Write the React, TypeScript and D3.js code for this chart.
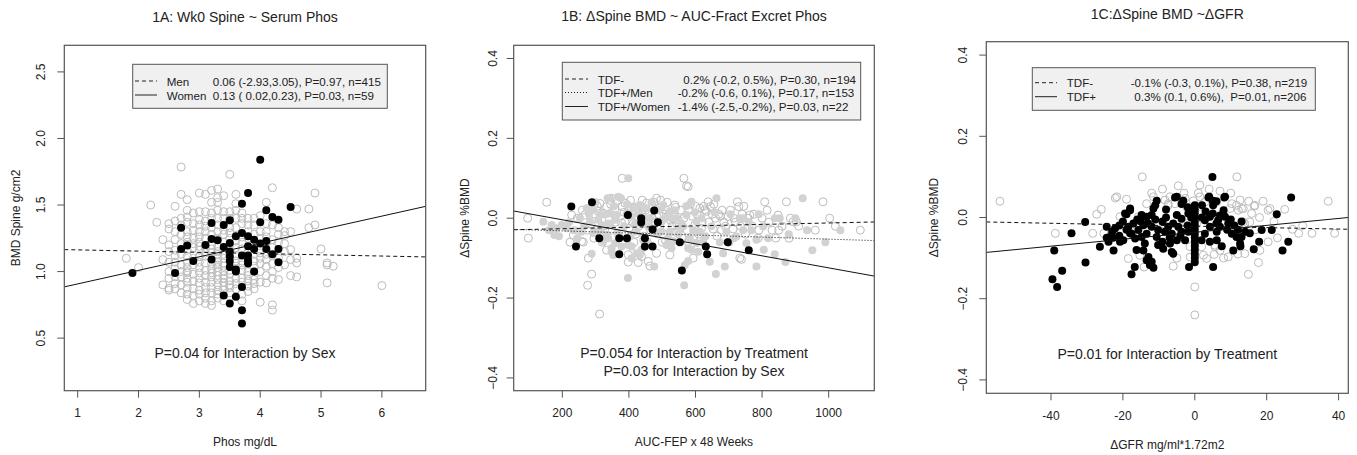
import React from 'react';
import * as d3 from 'd3';

type Pt = [number, number];

// ---------------- Panel 1A data ----------------
const titleA = '1A: Wk0 Spine ~ Serum Phos';
const xLabelA = 'Phos mg/dL';
const yLabelA = 'BMD Spine g/cm2';
const xTicksA = [1, 2, 3, 4, 5, 6];
const yTicksA = [0.5, 1.0, 1.5, 2.0, 2.5];
const menA: Pt[] = [
  [1.8, 1.10], [2.0, 1.03], [2.2, 1.50], [2.3, 1.37], [2.4, 1.24], [2.4, 1.09], [2.4, 0.90], [2.5, 1.36], [2.5, 1.32], [2.5, 1.20], [2.5, 1.07], [2.5, 0.875], [2.5, 0.86],
  [2.6, 1.49], [2.6, 1.30], [2.6, 1.24], [2.6, 1.16], [2.6, 0.91], [2.6, 1.12], [2.6, 1.02],
  [2.7, 1.785], [2.7, 1.58], [2.7, 1.28], [2.7, 1.21], [2.7, 1.05], [2.7, 0.96],
  [2.8, 1.54], [2.8, 1.46], [2.8, 1.41], [2.8, 1.37], [2.8, 1.26], [2.8, 1.16], [2.8, 1.115], [2.8, 1.07], [2.8, 1.03], [2.8, 0.99], [2.8, 0.92], [2.8, 0.875], [2.8, 0.83], [2.8, 0.95], [2.8, 1.0],
  [2.9, 1.31], [2.9, 1.25], [2.9, 1.18], [2.9, 0.76], [2.9, 1.10], [2.9, 0.98],
  [3.0, 1.59], [3.0, 1.39], [3.0, 1.35], [3.0, 1.26], [3.0, 1.22], [3.0, 1.115], [3.0, 1.07], [3.0, 0.95], [3.0, 0.915], [3.0, 0.78], [3.0, 1.03], [3.0, 1.16],
  [3.1, 1.58], [3.1, 1.45], [3.1, 1.30], [3.1, 1.115], [3.1, 1.065], [3.1, 1.01], [3.1, 0.80], [3.1, 1.18], [3.1, 0.92],
  [3.2, 1.61], [3.2, 1.52], [3.2, 1.44], [3.2, 0.96], [3.2, 0.78], [3.2, 0.745], [3.2, 1.28], [3.2, 1.14], [3.2, 1.02], [3.2, 0.88],
  [3.3, 1.62], [3.3, 1.555], [3.3, 1.52], [3.3, 1.46], [3.3, 1.40], [3.3, 1.19], [3.3, 1.10], [3.3, 1.05], [3.3, 1.00], [3.3, 0.94], [3.3, 0.86], [3.3, 0.80], [3.3, 1.30], [3.3, 0.97],
  [3.4, 1.57], [3.4, 1.065], [3.4, 0.97], [3.4, 0.86], [3.4, 1.28], [3.4, 1.13], [3.4, 1.0], [3.4, 0.92],
  [3.5, 1.73], [3.5, 1.33], [3.5, 1.25], [3.5, 0.98], [3.5, 0.93], [3.5, 0.88],
  [3.6, 1.58], [3.6, 1.51], [3.6, 1.46], [3.6, 1.08], [3.6, 0.87], [3.6, 1.33], [3.6, 1.18], [3.6, 0.95],
  [3.7, 0.83], [3.7, 1.36], [3.7, 1.22], [3.7, 1.05], [3.7, 0.95],
  [3.8, 1.40], [3.8, 1.30], [3.8, 1.0], [3.8, 0.93],
  [3.9, 1.40], [3.9, 0.94], [3.9, 0.87], [3.9, 1.28], [3.9, 1.08],
  [4.0, 1.06], [4.0, 0.77], [4.0, 1.30], [4.0, 1.14],
  [4.1, 1.52], [4.1, 1.30], [4.1, 1.09], [4.1, 0.97], [4.1, 0.915], [4.1, 1.22],
  [4.2, 1.63], [4.2, 1.06], [4.2, 0.75], [4.2, 0.71], [4.2, 1.24], [4.2, 1.0],
  [4.3, 0.94], [4.3, 1.22], [4.3, 1.28],
  [4.4, 1.30], [4.4, 1.21], [4.4, 1.27],
  [4.5, 1.165], [4.5, 1.09], [4.5, 0.97], [4.5, 1.30],
  [4.6, 1.47], [4.6, 1.10], [4.6, 1.065], [4.6, 0.96],
  [4.8, 1.47], [4.8, 1.33], [4.9, 1.59], [4.9, 1.35],
  [5.0, 1.17], [5.1, 1.05], [5.1, 1.065], [5.1, 0.915], [5.2, 1.04], [6.0, 0.895],
  [2.5, 1.15], [2.5, 1.0], [2.5, 0.95], [2.6, 1.38], [2.6, 1.07], [2.6, 0.96], [2.6, 0.87],
  [2.7, 1.40], [2.7, 1.35], [2.7, 1.13], [2.7, 1.0], [2.7, 0.90], [2.7, 0.84], [2.8, 1.30], [2.8, 1.22], [2.8, 0.79],
  [2.9, 1.44], [2.9, 1.36], [2.9, 1.21], [2.9, 1.05], [2.9, 0.93], [2.9, 0.87], [2.9, 0.82],
  [3.0, 1.45], [3.0, 1.30], [3.0, 1.19], [3.0, 1.11], [3.0, 0.99], [3.0, 0.86], [3.0, 0.83],
  [3.1, 1.38], [3.1, 1.34], [3.1, 1.25], [3.1, 1.14], [3.1, 0.97], [3.1, 0.88], [3.1, 0.84], [3.1, 0.76],
  [3.2, 1.40], [3.2, 1.33], [3.2, 1.20], [3.2, 1.17], [3.2, 1.06], [3.2, 0.99], [3.2, 0.92], [3.2, 0.84],
  [3.3, 1.35], [3.3, 1.25], [3.3, 1.15], [3.3, 1.13], [3.3, 1.07], [3.3, 1.03], [3.3, 0.90], [3.3, 0.83],
  [3.4, 1.45], [3.4, 1.40], [3.4, 1.31], [3.4, 1.22], [3.4, 1.10], [3.4, 1.04], [3.4, 0.95], [3.4, 0.89], [3.4, 0.78],
  [3.5, 1.45], [3.5, 1.40], [3.5, 1.29], [3.5, 1.20], [3.5, 1.01], [3.5, 0.90], [3.5, 0.84],
  [3.6, 1.40], [3.6, 1.23], [3.6, 1.12], [3.6, 1.04], [3.6, 0.91],
  [3.7, 1.44], [3.7, 1.40], [3.7, 1.26], [3.7, 1.17], [3.7, 1.08], [3.7, 1.01], [3.7, 0.92], [3.7, 0.78],
  [3.8, 1.35], [3.8, 1.25], [3.8, 1.15], [3.8, 0.97], [3.8, 0.89], [3.8, 0.85],
  [3.9, 1.35], [3.9, 1.20], [3.9, 1.13], [3.9, 1.04], [3.9, 0.97], [3.9, 0.91],
  [4.0, 1.42], [4.0, 1.25], [4.0, 1.17], [4.0, 1.10], [4.0, 1.00], [4.0, 0.92],
  [4.1, 1.36], [4.1, 1.26], [4.1, 1.13], [4.1, 1.04], [4.2, 1.35], [4.2, 1.18], [4.2, 1.12], [4.2, 0.95],
  [4.3, 1.33], [4.3, 1.10], [4.3, 1.03], [4.4, 1.15], [4.4, 1.05],
];
const womenA: Pt[] = [
  [4.0, 1.84], [3.8, 1.59], [3.7, 1.51], [4.5, 1.485], [4.1, 1.46], [4.2, 1.41], [4.3, 1.39], [4.0, 1.37], [3.2, 1.365], [3.4, 1.35],
  [3.5, 1.385], [2.7, 1.33], [3.7, 1.29], [3.6, 1.265], [3.8, 1.265], [3.9, 1.24], [4.1, 1.23], [3.2, 1.245], [3.3, 1.235], [3.5, 1.215],
  [4.0, 1.21], [3.1, 1.20], [2.8, 1.195], [2.7, 1.17], [3.4, 1.185], [3.8, 1.19], [3.9, 1.17], [4.1, 1.17], [4.3, 1.17], [4.2, 1.13],
  [3.5, 1.15], [3.5, 1.115], [3.5, 1.08], [3.7, 1.12], [3.8, 1.12], [3.8, 1.085], [3.2, 1.09], [2.9, 1.08], [4.3, 1.07], [3.8, 1.06],
  [3.5, 1.035], [3.6, 1.015], [3.6, 1.0], [3.9, 1.0], [1.9, 0.99], [2.6, 0.99], [3.7, 0.885], [3.4, 0.82], [3.6, 0.81], [3.5, 0.76],
  [3.7, 0.71], [3.7, 0.61],
];
const fitMenA: Pt[] = [[0.78, 1.165], [6.72, 1.11]];
const fitWomenA: Pt[] = [[0.78, 0.885], [6.72, 1.49]];
const legendLabelsA = ['Men', 'Women'];
const legendStatsA = ['0.06 (-2.93,3.05), P=0.97, n=415', '0.13 ( 0.02,0.23), P=0.03, n=59'];
const noteA = ['P=0.04 for Interaction by Sex'];

// ---------------- Panel 1B data ----------------
const titleB = '1B: \u0394Spine BMD ~ AUC-Fract Excret Phos';
const xLabelB = 'AUC-FEP x 48 Weeks';
const yLabelB = '\u0394Spine %BMD';
const xTicksB = [200, 400, 600, 800, 1000];
const yTicksB = [-0.4, -0.2, 0.0, 0.2, 0.4];
const tdfNegB: Pt[] = [
  [96, 0.0], [98, -0.05], [153, 0.04], [223, -0.06], [233, -0.042], [245, 0.0], [228, 0.008], [258, -0.058], [263, -0.06], [268, 0.008],
  [276, -0.168], [278, -0.1], [286, -0.015], [288, -0.14], [298, 0.01], [308, 0.017], [312, -0.24], [313, 0.037], [322, 0.012], [333, 0.029],
  [333, -0.08], [348, 0.05], [358, 0.025], [378, -0.012], [380, 0.029], [380, 0.10], [388, 0.038], [388, -0.009], [398, -0.11], [398, -0.092],
  [408, 0.025], [413, -0.013], [428, -0.111], [438, 0.012], [438, -0.096], [453, 0.038], [458, -0.108], [463, -0.12], [468, 0.0], [483, 0.05],
  [483, -0.088], [493, -0.021], [498, 0.029], [506, 0.01], [510, -0.057], [523, -0.092], [538, 0.033], [538, -0.034], [540, 0.027],
  [543, -0.012], [548, -0.004], [565, 0.10], [573, 0.081], [578, 0.079], [578, -0.059], [593, -0.1], [598, -0.017], [613, 0.025], [628, 0.021],
  [633, 0.017], [638, 0.041], [645, 0.029], [653, -0.027], [678, -0.03], [698, 0.004], [713, -0.027], [726, 0.041], [730, 0.029], [733, -0.1],
  [738, -0.103], [758, 0.0], [763, 0.008], [788, -0.05], [808, 0.041], [841, -0.05], [848, 0.008], [873, 0.041], [881, -0.05], [893, -0.009],
  [903, -0.009], [983, 0.041], [1003, 0.0], [1095, -0.03],
  [350, -0.03], [420, -0.04], [440, 0.045], [470, 0.03], [500, -0.06], [520, 0.01], [560, -0.05], [590, 0.005], [610, -0.04], [620, -0.01],
  [660, 0.0], [670, 0.01], [690, -0.02], [700, -0.06], [720, -0.01], [740, 0.01], [750, -0.04], [770, -0.02], [800, 0.0], [820, -0.01],
  [830, -0.03], [860, -0.02], [910, -0.02], [960, -0.03], [1020, -0.02], [300, -0.03], [320, -0.06], [360, -0.01], [395, 0.01], [430, -0.02],
  [450, 0.02], [455, -0.06], [490, 0.01], [515, 0.04], [530, -0.02], [580, 0.02], [600, 0.03], [650, 0.01], [680, 0.02],
  [260, 0.02], [275, -0.03], [295, -0.05], [305, 0.03], [325, -0.02], [340, 0.0], [345, 0.035], [365, 0.045], [370, -0.045], [385, 0.015],
  [400, -0.025], [405, 0.045], [415, -0.06], [425, 0.005], [435, 0.03], [445, -0.045], [460, 0.015], [465, -0.03], [475, 0.04], [480, -0.01],
  [495, 0.045], [505, -0.04], [512, 0.02], [525, -0.005], [535, 0.015], [550, -0.03], [555, 0.02], [565, 0.0], [575, -0.03], [585, 0.035],
  [595, -0.045], [605, 0.01], [618, -0.025], [625, 0.03], [640, -0.01], [655, 0.035], [665, -0.045], [675, 0.005], [685, -0.01], [705, 0.02],
  [715, 0.0], [735, -0.02], [745, 0.03], [775, 0.01], [790, -0.03], [815, 0.02], [850, -0.03], [885, 0.0],
];
const tdfMenB: Pt[] = [
  [143, -0.009], [168, -0.017], [176, -0.042], [183, -0.025], [198, -0.017], [208, -0.021], [213, -0.025], [253, 0.0], [258, -0.034], [273, 0.025],
  [283, -0.008], [288, -0.089], [293, 0.021], [293, -0.037], [298, -0.034], [308, -0.004], [313, 0.008], [318, -0.017], [323, -0.058], [333, -0.042],
  [336, 0.05], [338, -0.013], [338, -0.05], [343, 0.012], [343, 0.05], [343, -0.017], [348, -0.084], [348, -0.075], [353, -0.092], [358, -0.004],
  [358, -0.063], [363, 0.008], [368, 0.054], [376, 0.05], [378, -0.071], [397, -0.15], [398, 0.10], [398, -0.067], [408, 0.004], [408, -0.1],
  [408, -0.071], [413, 0.025], [423, 0.029], [423, -0.088], [423, -0.033], [433, 0.033], [433, -0.092], [438, -0.079], [448, 0.0], [448, 0.025],
  [453, 0.025], [453, -0.063], [463, 0.0], [476, -0.121], [498, -0.009], [498, -0.033], [503, 0.033], [513, -0.067], [523, 0.017], [523, -0.033],
  [528, 0.0], [528, -0.075], [533, -0.058], [543, 0.0], [553, -0.025], [558, -0.013], [566, -0.168], [568, -0.117], [573, 0.008], [578, -0.107],
  [578, -0.075], [583, -0.05], [588, 0.041], [588, -0.079], [603, -0.008], [603, -0.062], [608, -0.084], [613, -0.033], [623, -0.059], [643, -0.109],
  [661, -0.14], [663, 0.05], [683, -0.088], [688, -0.121], [693, -0.034], [723, -0.046], [733, 0.0], [743, 0.0], [743, -0.03], [753, -0.063],
  [768, -0.03], [783, -0.054], [783, -0.121], [803, -0.021], [805, -0.079], [818, -0.05], [838, 0.0], [838, -0.09], [853, 0.0], [870, -0.11],
  [922, 0.05], [935, -0.03], [951, -0.08], [1035, -0.03],
  [160, -0.03], [190, -0.045], [220, -0.01], [235, -0.03], [245, -0.05], [265, -0.02], [280, 0.01], [300, 0.04], [315, -0.03], [330, 0.01],
  [355, 0.03], [365, -0.035], [385, -0.02], [395, 0.035], [405, -0.045], [418, -0.015], [430, 0.01], [443, -0.055], [458, -0.02], [468, 0.04],
  [485, -0.04], [490, 0.02], [508, 0.0], [518, -0.05], [538, 0.02], [548, -0.04], [563, -0.02], [572, 0.03], [593, -0.03], [598, 0.015],
  [618, 0.0], [630, -0.045], [648, -0.02], [658, 0.015], [673, -0.06], [705, 0.01], [715, -0.05], [760, -0.01], [790, 0.01], [880, -0.04],
  [900, 0.0], [990, -0.06],
];
const tdfWomenB: Pt[] = [
  [227, 0.029], [289, 0.04], [397, 0.008], [437, 0.0], [437, -0.011], [476, 0.019], [487, -0.01], [471, -0.028], [241, -0.071], [311, -0.05],
  [371, -0.05], [394, -0.05], [371, -0.09], [448, -0.05], [448, -0.071], [471, -0.071], [553, -0.06], [631, -0.071], [635, -0.09], [697, -0.06],
  [760, -0.08], [559, -0.131],
];
const fitNegB: Pt[] = [[54, -0.029], [1137, -0.0095]];
const fitMenB: Pt[] = [[54, -0.028], [1137, -0.056]];
const fitWomenB: Pt[] = [[54, 0.018], [1137, -0.145]];
const legendLabelsB = ['TDF-', 'TDF+/Men', 'TDF+/Women'];
const legendStatsB = ['0.2% (-0.2, 0.5%), P=0.30, n=194', '-0.2% (-0.6, 0.1%), P=0.17, n=153', '-1.4% (-2.5,-0.2%), P=0.03, n=22'];
const noteB = ['P=0.054 for Interaction by Treatment', 'P=0.03 for Interaction by Sex'];

// ---------------- Panel 1C data ----------------
const titleC = '1C:\u0394Spine BMD ~\u0394GFR';
const xLabelC = '\u0394GFR mg/ml*1.72m2';
const yLabelC = '\u0394Spine %BMD';
const xTicksC = [-40, -20, 0, 20, 40];
const yTicksC = [-0.4, -0.2, 0.0, 0.2, 0.4];
const tdfNegC: Pt[] = [
  [-54.2, 0.04], [-38.8, -0.039], [-28.4, -0.039], [-27.3, 0.008], [-25.3, -0.039], [-22.1, 0.048], [-16.2, -0.031], [-15.3, -0.093], [-14.6, 0.1], [-14.1, -0.122],
  [-10.6, -0.015], [-8.3, 0.043], [-7.8, -0.072], [-7.4, 0.03], [-5.0, -0.1], [-4.6, 0.078], [-2.3, 0.026], [-2.3, -0.015], [-1.3, -0.072], [-0.4, 0.041],
  [0, -0.171], [0, -0.24], [1.0, 0.026], [1.4, 0.08], [1.9, -0.072], [2.4, -0.093], [5.4, -0.091], [5.6, -0.068], [7.9, 0.01], [9.8, 0.022],
  [9.8, -0.015], [11.7, 0.1], [12.6, 0.043], [13.0, 0.022], [13.5, -0.011], [14.9, -0.14], [15.3, -0.011], [15.8, 0.01], [16.5, 0.028], [16.7, 0.03],
  [17.7, -0.111], [18.1, -0.081], [20.4, -0.06], [20.4, 0.018], [20.9, 0.022], [27.2, -0.029], [28.9, -0.039], [32.6, -0.039], [37.1, 0.04], [38.9, -0.039],
  [-6.9, 0.051], [-7.4, 0.034], [-5.5, 0.034], [2.8, 0.038], [11.6, 0.03], [12.1, 0.018], [13.5, 0.022], [10.3, 0.034], [-11.5, 0.051], [-13.4, 0.034],
  [-20.8, 0.002], [-15.7, 0.002], [-8.8, -0.015], [0.5, -0.015], [5.6, -0.072], [7.0, -0.081], [-1.3, -0.097], [3.3, -0.101], [9.3, -0.097], [-18.5, -0.101],
  [13.9, -0.089], [13.9, -0.015], [-21.7, 0.051], [-2.7, 0.047], [1.4, 0.051], [6.1, 0.038],
  [-26, 0.02], [-19, 0.045], [-12, 0.06], [-9, 0.07], [-3, 0.06], [1, 0.06], [4, 0.07], [7, 0.065], [10, 0.06], [15, 0.04],
  [17, -0.03], [18, 0.0], [19, 0.04], [22, -0.01], [23, -0.05], [25, 0.02], [30, -0.02], [-6, -0.12], [8, -0.1], [12, -0.09],
];
const tdfPosC: Pt[] = [
  [4.9, 0.1], [-5.5, 0.049], [-3.2, 0.041], [3.8, 0.049], [5.0, 0.041], [8.2, 0.049], [-10.6, 0.041], [-19.0, 0.008], [-18.0, 0.018], [-30.5, -0.011],
  [-34.3, -0.039], [-39.1, -0.081], [-36.9, -0.131], [-39.6, -0.152], [-38.3, -0.171], [-30.4, -0.111], [-26.4, -0.072], [-24.5, -0.023], [-24.5, -0.05], [-22.7, -0.05],
  [-22.6, -0.081], [-20.8, -0.06], [-18.0, -0.039], [-16.2, -0.08], [-16.7, -0.122], [-17.6, -0.14], [-13.9, -0.064], [-13.4, -0.105], [-12.5, -0.117], [-11.5, -0.124],
  [-6.0, -0.089], [-1.6, -0.122], [5.1, -0.122], [7.5, -0.071], [10.7, -0.081], [12.7, -0.071], [15.3, -0.039], [16.4, -0.078], [17.9, -0.06], [18.6, -0.031],
  [21.4, -0.031], [22.8, 0.008], [24.4, -0.081], [26.0, -0.06], [26.8, 0.049],
  [0, 0.03], [0, 0.02], [0, 0.01], [0, 0.0], [0, -0.01], [0, -0.02], [0, -0.03], [0, -0.04], [0, -0.05], [0, -0.06], [0, -0.07], [0, -0.08], [0, -0.09], [0, -0.1], [0, -0.11],
  [-5.0, 0.051], [-3.7, 0.033], [4.0, 0.051], [8.4, 0.051], [5.1, 0.03], [-18.0, 0.022], [-19.4, 0.01], [-11.5, 0.022], [-12.0, 0.006], [-13.4, 0.002],
  [-14.8, 0.006], [-5.0, 0.006], [-3.7, -0.003], [-1.8, 0.01], [8.0, 0.018], [8.4, 0.002], [6.5, -0.007], [4.2, 0.002], [2.8, -0.007], [9.3, -0.015],
  [-22.2, -0.027], [-18.5, -0.023], [-17.1, -0.015], [-15.7, -0.031], [-14.3, -0.019], [-17.6, -0.04], [-16.6, -0.052], [-14.8, -0.048], [-13.4, -0.04], [-12.0, -0.023],
  [-10.2, -0.031], [-10.6, -0.048], [-8.3, -0.035], [-7.4, -0.023], [-6.4, -0.04], [-4.6, -0.023], [-3.7, -0.035], [-5.0, -0.056], [-6.9, -0.064], [-2.7, -0.056],
  [-1.8, -0.035], [4.2, -0.023], [6.1, -0.035], [7.0, -0.023], [2.8, -0.04], [1.9, -0.056], [4.2, -0.06], [6.1, -0.056], [10.3, -0.04], [11.6, -0.048],
  [13.0, -0.048], [12.6, -0.064], [-23.6, -0.048], [-19.9, -0.056], [-14.3, -0.081], [-12.9, -0.097], [-12.0, -0.109], [-10.2, -0.068], [-8.8, -0.077], [-6.4, -0.085],
  [-20, -0.01], [-21, -0.02], [-19, -0.03], [-16, -0.005], [-15, -0.01], [-13, -0.015], [-11, -0.005], [-9, -0.01], [-8, 0.0], [-6, -0.015],
  [-9, -0.06], [-7, -0.05], [-4, -0.045], [-2, -0.02], [-1, 0.0], [2, 0.0], [3, 0.015], [5, 0.01], [6, -0.015], [7, 0.005],
  [9, -0.03], [10, -0.005], [11, -0.02], [12, -0.03], [13, -0.01], [14, -0.035], [-23, -0.035], [-21, -0.045], [-24, -0.06], [-11, 0.03],
  [-8, 0.02], [2, 0.03], [6, 0.04], [-2, 0.025],
];
const fitNegC: Pt[] = [[-58, -0.011], [42.7, -0.029]];
const fitPosC: Pt[] = [[-58, -0.086], [42.7, 0.0]];
const legendLabelsC = ['TDF-', 'TDF+'];
const legendStatsC = ['-0.1% (-0.3, 0.1%), P=0.38, n=219', '0.3% (0.1, 0.6%),  P=0.01, n=206'];
const noteC = ['P=0.01 for Interaction by Treatment'];

// ---------------- styling ----------------
const FONT = '"Liberation Sans", Arial, Helvetica, sans-serif';
const TEXT = '#222';
const AXIS = '#555';
const OPEN_STROKE = '#bcbcbc';
const GRAY_FILL = '#d2d2d2';

type Series = { pts: Pt[]; kind: 'open' | 'gray' | 'black' };
type Fit = { pts: Pt[]; dash: string };

interface PanelCfg {
  id: string;
  title: string; xLabel: string; yLabel: string;
  xTicks: number[]; yTicks: number[]; yFmt: (v: number) => string;
  xDomain: [number, number]; yDomain: [number, number];
  box: { l: number; r: number; t: number; b: number };
  titleY: number; yLabelX: number; yTickOff: number;
  series: Series[]; fits: Fit[];
  legend: { l: number; r: number; t: number; b: number; segL: number; segR: number; labX: number; statX: number[]; rows: number[]; dashes: string[]; labels: string[]; stats: string[] };
  notes: string[]; noteY: number[];
}

const panels: PanelCfg[] = [
  {
    id: 'A', title: titleA, xLabel: xLabelA, yLabel: yLabelA,
    xTicks: xTicksA, yTicks: yTicksA, yFmt: d3.format('.1f'),
    xDomain: [0.78, 6.72], yDomain: [0.105, 2.7],
    box: { l: 64.3, r: 425.7, t: 45.3, b: 390.7 },
    titleY: 16.5, yLabelX: 15.5, yTickOff: 23,
    series: [{ pts: menA, kind: 'open' }, { pts: womenA, kind: 'black' }],
    fits: [{ pts: fitMenA, dash: '4,3' }, { pts: fitWomenA, dash: '' }],
    legend: { l: 132.7, r: 387.3, t: 64.3, b: 108.3, segL: 135, segR: 157, labX: 166.7, statX: [212.7, 212.7], rows: [81, 95], dashes: ['4,3', ''], labels: legendLabelsA, stats: legendStatsA },
    notes: noteA, noteY: [352.7],
  },
  {
    id: 'B', title: titleB, xLabel: xLabelB, yLabel: yLabelB,
    xTicks: xTicksB, yTicks: yTicksB, yFmt: d3.format('.1f'),
    xDomain: [54, 1137], yDomain: [-0.432, 0.433],
    box: { l: 513.7, r: 874.3, t: 45.3, b: 390.7 },
    titleY: 15.7, yLabelX: 465, yTickOff: 21,
    series: [{ pts: tdfNegB, kind: 'open' }, { pts: tdfMenB, kind: 'gray' }, { pts: tdfWomenB, kind: 'black' }],
    fits: [{ pts: fitNegB, dash: '4,3' }, { pts: fitMenB, dash: '1,2' }, { pts: fitWomenB, dash: '' }],
    legend: { l: 562.3, r: 860.7, t: 62.3, b: 120, segL: 565, segR: 588, labX: 597.7, statX: [683.3, 677.7, 677.7], rows: [79, 92.5, 106.5], dashes: ['4,3', '1,2', ''], labels: legendLabelsB, stats: legendStatsB },
    notes: noteB, noteY: [352.7, 371],
  },
  {
    id: 'C', title: titleC, xLabel: xLabelC, yLabel: yLabelC,
    xTicks: xTicksC, yTicks: yTicksC, yFmt: d3.format('.1f'),
    xDomain: [-58, 42.7], yDomain: [-0.433, 0.433],
    box: { l: 986.3, r: 1348.3, t: 41.7, b: 393.3 },
    titleY: 13.5, yLabelX: 933.5, yTickOff: 23,
    series: [{ pts: tdfNegC, kind: 'open' }, { pts: tdfPosC, kind: 'black' }],
    fits: [{ pts: fitNegC, dash: '4,3' }, { pts: fitPosC, dash: '' }],
    legend: { l: 1032.3, r: 1315.3, t: 67.7, b: 110.3, segL: 1035, segR: 1057, labX: 1066.7, statX: [1130.7, 1134.3], rows: [82.7, 96.7], dashes: ['4,3', ''], labels: legendLabelsC, stats: legendStatsC },
    notes: noteC, noteY: [354],
  },
];

function Panel({ p }: { p: PanelCfg }) {
  const x = d3.scaleLinear().domain(p.xDomain).range([p.box.l, p.box.r]);
  const y = d3.scaleLinear().domain(p.yDomain).range([p.box.b, p.box.t]);
  const line = d3.line<Pt>().x((d) => x(d[0])).y((d) => y(d[1]));
  const cx = (p.box.l + p.box.r) / 2;
  const cy = (p.box.t + p.box.b) / 2;
  const clipId = `clip-${p.id}`;
  const lg = p.legend;
  return (
    <g>
      <defs>
        <clipPath id={clipId}>
          <rect x={p.box.l} y={p.box.t} width={p.box.r - p.box.l} height={p.box.b - p.box.t} />
        </clipPath>
      </defs>
      <text x={cx} y={p.titleY} textAnchor="middle" dominantBaseline="central" fontSize={14} fill={TEXT}>{p.title}</text>
      <g clipPath={`url(#${clipId})`}>
        {p.series.map((s, si) => (
          <g key={si}>
            {s.pts.map((d, i) => (
              <circle key={i} cx={x(d[0])} cy={y(d[1])} r={4}
                fill={s.kind === 'open' ? 'none' : s.kind === 'gray' ? GRAY_FILL : '#000'}
                stroke={s.kind === 'open' ? OPEN_STROKE : 'none'} strokeWidth={1} />
            ))}
          </g>
        ))}
        {p.fits.map((f, i) => (
          <path key={i} d={line(f.pts) || ''} fill="none" stroke="#111" strokeWidth={1} strokeDasharray={f.dash || undefined} />
        ))}
      </g>
      <rect x={p.box.l} y={p.box.t} width={p.box.r - p.box.l} height={p.box.b - p.box.t} fill="none" stroke={AXIS} strokeWidth={1.2} />
      {p.xTicks.map((t) => (
        <g key={t}>
          <line x1={x(t)} x2={x(t)} y1={p.box.b} y2={p.box.b + 7} stroke={AXIS} />
          <text x={x(t)} y={p.box.b + 22.5} textAnchor="middle" dominantBaseline="central" fontSize={12} fill={TEXT}>{t}</text>
        </g>
      ))}
      {p.yTicks.map((t) => (
        <g key={t}>
          <line x1={p.box.l - 7} x2={p.box.l} y1={y(t)} y2={y(t)} stroke={AXIS} />
          <text transform={`translate(${p.box.l - p.yTickOff},${y(t)}) rotate(-90)`} textAnchor="middle" dominantBaseline="central" fontSize={12} fill={TEXT}>{p.yFmt(t)}</text>
        </g>
      ))}
      <text x={cx} y={p.box.b + 51.5} textAnchor="middle" dominantBaseline="central" fontSize={12} fill={TEXT}>{p.xLabel}</text>
      <text transform={`translate(${p.yLabelX},${cy}) rotate(-90)`} textAnchor="middle" dominantBaseline="central" fontSize={12} fill={TEXT}>{p.yLabel}</text>
      <rect x={lg.l} y={lg.t} width={lg.r - lg.l} height={lg.b - lg.t} fill="#f0f0f0" stroke={AXIS} strokeWidth={1} />
      {lg.labels.map((lab, i) => (
        <g key={i}>
          <line x1={lg.segL} x2={lg.segR} y1={lg.rows[i]} y2={lg.rows[i]} stroke="#222" strokeWidth={1} strokeDasharray={lg.dashes[i] || undefined} />
          <text x={lg.labX} y={lg.rows[i]} dominantBaseline="central" fontSize={11.6} fill={TEXT}>{lab}</text>
          <text x={lg.statX[i]} y={lg.rows[i]} dominantBaseline="central" fontSize={11.6} fill={TEXT} style={{ whiteSpace: 'pre' }}>{lg.stats[i]}</text>
        </g>
      ))}
      {p.notes.map((n, i) => (
        <text key={i} x={cx} y={p.noteY[i]} textAnchor="middle" dominantBaseline="central" fontSize={14} fill={TEXT}>{n}</text>
      ))}
    </g>
  );
}

export default function App() {
  return (
    <div style={{ position: 'absolute', left: 0, top: 0, width: 1357, height: 455, background: '#fff' }}>
      <svg width={1357} height={455} style={{ display: 'block', fontFamily: FONT }}>
        <rect x={0} y={0} width={1357} height={455} fill="#fff" />
        {panels.map((p) => <Panel key={p.id} p={p} />)}
      </svg>
    </div>
  );
}
